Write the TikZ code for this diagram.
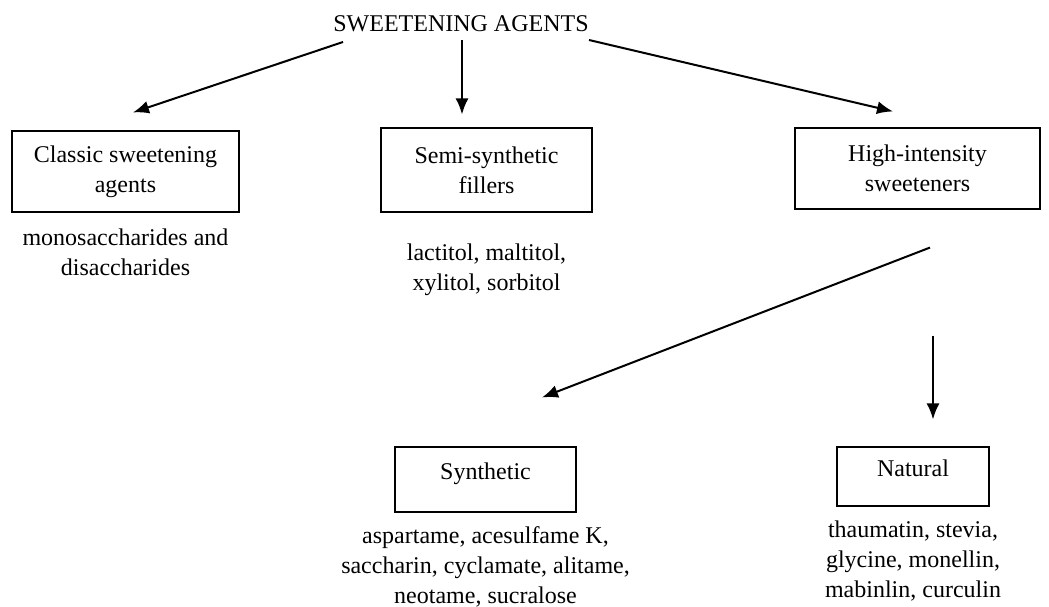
\documentclass[tikz,border=0pt]{standalone}
\usepackage{fontspec}
\setmainfont{Liberation Serif}
\usetikzlibrary{arrows.meta,positioning}

\begin{document}
\begin{tikzpicture}[x=1pt, y=-1pt,
    font=\fontsize{24pt}{30pt}\selectfont,
    box/.style = {draw, line width=1.1pt, align=center, inner sep=0pt},
    leaf/.style = {box, text height=17pt, text depth=17pt},
    note/.style = {align=center, inner sep=0pt},
    arr/.style = {-{Latex[length=16pt,width=13pt]}, line width=2pt}]
    \useasboundingbox (0,0) rectangle (1049,607);

    \node[anchor=base] (title) at (461,32) {SWEETENING AGENTS};

    \node[box, minimum width=227pt, minimum height=81pt] (classic) at (125.5,171.5) {Classic sweetening\\agents};
    \node[box, minimum width=211pt, minimum height=84pt] (semi) at (486.5,170) {Semi-synthetic\\fillers};
    \node[box, minimum width=245pt, minimum height=81pt] (high) at (917.5,168.5) {High-intensity\\sweeteners};
    \node[leaf, minimum width=181pt, minimum height=65pt] (synth) at (485.5,479.5) {Synthetic};
    \node[leaf, minimum width=152pt, minimum height=59pt] (natural) at (913,476.5) {Natural};

    \node[note, below=16pt of classic] (classicEx) {monosaccharides and\\disaccharides};
    \node[note, below=31pt of semi] (semiEx) {lactitol, maltitol,\\xylitol, sorbitol};
    \node[note, below=14pt of synth] (synthEx) {aspartame, acesulfame K,\\saccharin, cyclamate, alitame,\\neotame, sucralose};
    \node[note, below=14pt of natural] (naturalEx) {thaumatin, stevia,\\glycine, monellin,\\mabinlin, curculin};

    % arrow ends
    \coordinate (tClassic) at (343,42);
    \coordinate (tSemi) at (462,40);
    \coordinate (tHigh) at (589,40);
    \coordinate (hSynth) at ([xshift=12.5pt,yshift=-38pt]high.south);
    \coordinate (hNatural) at ([xshift=15.5pt,yshift=-126pt]high.south);

    \draw[arr] (tClassic) -- ([xshift=7.5pt,yshift=18pt]classic.north);
    \draw[arr] (tSemi) -- ([xshift=-24.5pt,yshift=13pt]semi.north);
    \draw[arr] (tHigh) -- ([xshift=-24.5pt,yshift=16pt]high.north);
    \draw[arr] (hSynth) -- ([xshift=56.5pt,yshift=49pt]synth.north);
    \draw[arr] (hNatural) -- ([xshift=20pt,yshift=27pt]natural.north);
\end{tikzpicture}
\end{document}
